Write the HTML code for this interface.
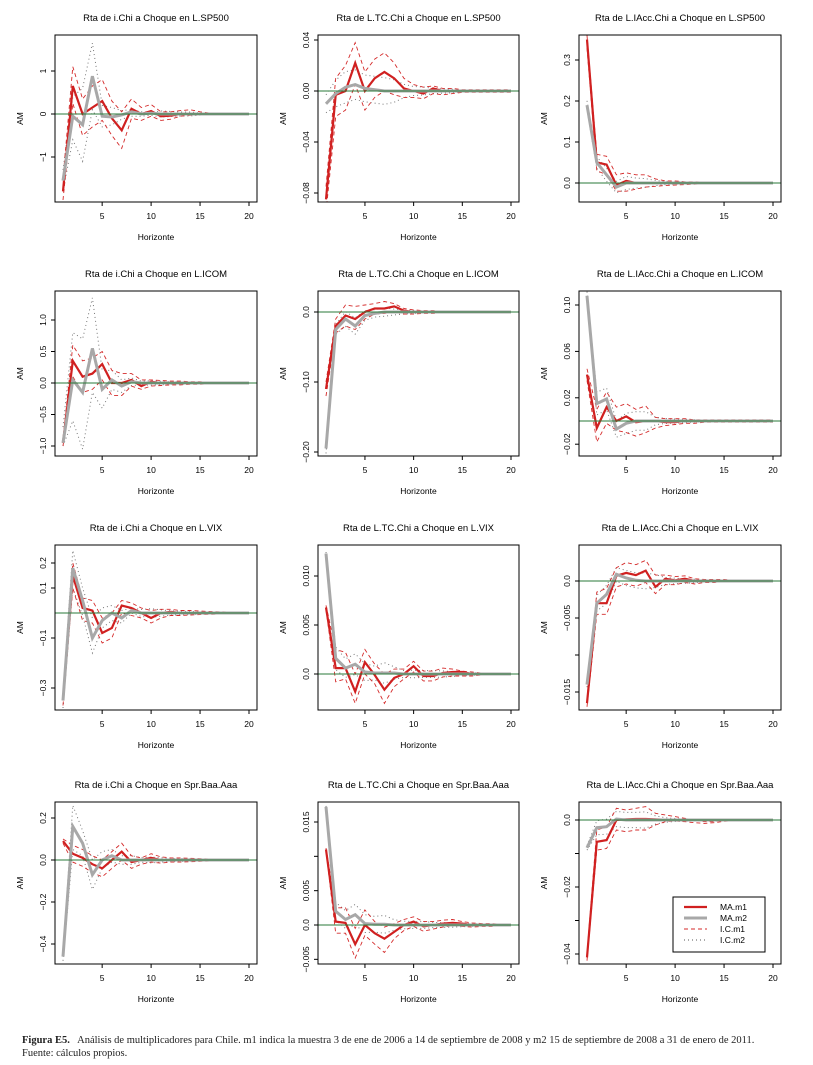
<!DOCTYPE html>
<html><head><meta charset="utf-8"><style>
body{margin:0;background:#fff;width:813px;height:1065px;overflow:hidden}
svg{position:absolute;left:0;top:0}
.cap{position:absolute;left:22px;top:1034px;font-family:"Liberation Serif",serif;font-size:10.5px;line-height:13px;color:#222}
</style></head><body>
<svg id="s" width="813" height="1065" xmlns="http://www.w3.org/2000/svg" font-family="Liberation Sans, sans-serif"></svg>
<div class="cap"><b>Figura E5.</b>&nbsp;&nbsp; Análisis de multiplicadores para Chile. m1 indica la muestra 3 de ene de 2006 a 14 de septiembre de 2008 y m2 15 de septiembre de 2008 a 31 de enero de 2011.<br>Fuente: cálculos propios.</div>
<script>
const L=[55,318,579],R=[257,519,781],T=[35,291,545,802],B=[202,456,710,964];
function pad(a){a=a.slice();while(a.length<20)a.push(0);return a}
const P=[
{r:0,c:0,t:"Rta de i.Chi a Choque en L.SP500",ref:[[1,71],[0,114]],ticks:[[1,"1"],[0,"0"],[-1,"−1"]],
m1:[-1.8,0.65,0,0.15,0.3,-0.1,-0.38,0.12,0,0.07,-0.05,-0.04,0,0.01,0],
m2:[-1.55,-0.05,-0.25,0.88,-0.05,-0.07,-0.02,0.05,0,0.02],
u1:[-1.5,1.1,0.35,0.65,0.8,0.3,0.05,0.35,0.15,0.22,0.05,0.05,0.08,0.1,0.05,0.02,0.02,0.02,0.01,0.01],
l1:[-2.0,0.25,-0.5,-0.3,-0.15,-0.5,-0.8,-0.1,-0.15,-0.05,-0.15,-0.12,-0.05,-0.03,-0.02,-0.02,-0.01,-0.01,-0.01,-0.01],
u2:[-1.3,0.4,0.6,1.65,0.2,0.15,0.08,0.1,0.05,0.04],l2:[-1.8,-0.6,-1.1,0.1,-0.3,-0.25,-0.12,-0.05,-0.05,-0.03]},
{r:0,c:1,t:"Rta de L.TC.Chi a Choque en L.SP500",ref:[[0.04,40],[0,91]],ticks:[[0.04,"0.04"],[0,"0.00"],[-0.04,"−0.04"],[-0.08,"−0.08"]],
m1:[-0.085,-0.003,0,0.022,0,0.01,0.015,0.01,0.002,0,-0.002,0.002,0],
m2:[-0.01,-0.002,0.003,0.005,0.002,0.001],
u1:[-0.075,0.01,0.02,0.038,0.015,0.025,0.03,0.022,0.01,0.005,0.003,0.004,0.002,0.002,0.001,0.001,0.001,0.001,0.001,0.001],
l1:[-0.095,-0.02,-0.015,0.005,-0.015,-0.005,0,-0.003,-0.005,-0.005,-0.006,-0.002,-0.003,-0.002,-0.001,-0.001,-0.001,-0.001,-0.001,-0.001]},
{r:0,c:2,t:"Rta de L.IAcc.Chi a Choque en L.SP500",ref:[[0.3,60],[0,183]],ticks:[[0.3,"0.3"],[0.2,"0.2"],[0.1,"0.1"],[0,"0.0"]],
m1:[0.35,0.05,0.045,-0.005,0.005,0,0,0],m2:[0.19,0.05,0.02,-0.01,0],
u1:[0.36,0.07,0.065,0.02,0.025,0.02,0.02,0.01,0.005,0.005,0.003,0.003,0.002,0.002,0.001,0.001,0.001,0.001,0.001,0.001],
l1:[0.33,0.03,0.02,-0.02,-0.02,-0.015,-0.01,-0.008,-0.006,-0.005,-0.004,-0.003,-0.002,-0.002,-0.001,-0.001,-0.001,-0.001,-0.001,-0.001]},
{r:1,c:0,t:"Rta de i.Chi a Choque en L.ICOM",ref:[[1,320],[0,383]],ticks:[[1,"1.0"],[0.5,"0.5"],[0,"0.0"],[-0.5,"−0.5"],[-1,"−1.0"]],
m1:[-0.95,0.35,0.1,0.15,0.3,0,0,0.05,-0.05,0.02],m2:[-0.95,0.05,-0.15,0.55,-0.1,0.05,-0.05,0.02],
u1:[-0.9,0.6,0.35,0.4,0.5,0.2,0.15,0.15,0.05,0.05,0.04,0.03,0.03,0.02,0.02,0.01,0.01,0.01,0.01,0.01],
l1:[-1.0,0.1,-0.15,-0.1,0.05,-0.2,-0.2,-0.05,-0.1,-0.05,-0.04,-0.03,-0.03,-0.02,-0.02,-0.01,-0.01,-0.01,-0.01,-0.01],
u2:[-0.7,0.8,0.7,1.35,0.2,0.2,0.05,0.08,0.03],l2:[-1.0,-0.6,-1.05,-0.15,-0.4,-0.1,-0.15,-0.04,-0.03]},
{r:1,c:1,t:"Rta de L.TC.Chi a Choque en L.ICOM",ref:[[0,312],[-0.1,382]],ticks:[[0,"0.0"],[-0.1,"−0.10"],[-0.2,"−0.20"]],
m1:[-0.11,-0.02,-0.005,-0.01,0,0.005,0.005,0.008,0.002],m2:[-0.195,-0.025,-0.01,-0.02,-0.005,-0.002],
u1:[-0.1,-0.01,0.01,0.008,0.01,0.012,0.015,0.012,0.005,0.003,0.002,0.002,0.001,0.001,0.001,0.001,0.001,0.001,0.001,0.001],
l1:[-0.12,-0.03,-0.02,-0.025,-0.01,-0.003,-0.002,0,-0.003,-0.003,-0.002,-0.002,-0.001,-0.001,-0.001,-0.001,-0.001,-0.001,-0.001,-0.001]},
{r:1,c:2,t:"Rta de L.IAcc.Chi a Choque en L.ICOM",ref:[[0.1,305],[0,421]],ticks:[[0.1,"0.10"],[0.06,"0.06"],[0.02,"0.02"],[-0.02,"−0.02"]],
m1:[0.04,-0.006,0.012,0,0.004,-0.001,0,0,-0.001,-0.001],m2:[0.108,0.015,0.019,-0.007,-0.002,0],
u1:[0.045,0.01,0.025,0.012,0.015,0.01,0.013,0.003,0.002,0.002,0.002,0.001,0.001,0.001,0.001,0.001,0.001,0.001,0.001,0.001],
l1:[0.035,-0.018,-0.002,-0.008,-0.01,-0.013,-0.01,-0.006,-0.004,-0.003,-0.002,-0.002,-0.001,-0.001,-0.001,-0.001,-0.001,-0.001,-0.001,-0.001]},
{r:2,c:0,t:"Rta de i.Chi a Choque en L.VIX",ref:[[0.2,563],[0,613]],ticks:[[0.2,"0.2"],[0.1,"0.1"],[-0.1,"−0.1"],[-0.3,"−0.3"]],
m1:[-0.35,0.15,0.02,0.01,-0.08,-0.06,0.03,0.02,0,-0.02,0,0.005],m2:[-0.35,0.18,0.05,-0.1,-0.03,0,-0.02,0.01],
u1:[-0.33,0.2,0.06,0.05,-0.02,0,0.05,0.04,0.02,0.01,0.015,0.015,0.01,0.01,0.008,0.006,0.005,0.004,0.004,0.004],
l1:[-0.37,0.1,-0.03,-0.04,-0.12,-0.1,0,-0.01,-0.02,-0.04,-0.02,-0.01,-0.01,-0.008,-0.006,-0.005,-0.004,-0.004,-0.004,-0.004],
u2:[-0.32,0.25,0.1,-0.02,0.02,0.03,0.01,0.02],l2:[-0.38,0.1,-0.01,-0.16,-0.06,-0.03,-0.04,0]},
{r:2,c:1,t:"Rta de L.TC.Chi a Choque en L.VIX",ref:[[0.01,576],[0,674]],ticks:[[0.01,"0.010"],[0.005,"0.005"],[0,"0.0"]],
m1:[0.0068,0.0006,0.0006,-0.0018,0.0012,-0.0001,-0.0016,-0.0004,0,0.0008,-0.0002,-0.0002,0.0001,0.0002,0.0002],
m2:[0.0123,0.0016,0.0006,0.001,0.0002,0.0001,0.0001,0.0001],
u1:[0.007,0.0025,0.0022,0,0.0025,0.001,0,0.0005,0.0005,0.0013,0.0003,0.0003,0.0006,0.0005,0.0003,0.0002,0.0001,0.0001,0.0001,0.0001],
l1:[0.0066,-0.0008,-0.0005,-0.003,0,-0.001,-0.003,-0.0013,-0.0005,0.0002,-0.0007,-0.0007,-0.0003,-0.0002,-0.0002,-0.0002,-0.0001,-0.0001,-0.0001,-0.0001]},
{r:2,c:2,t:"Rta de L.IAcc.Chi a Choque en L.VIX",ref:[[0,581],[-0.005,618]],ticks:[[0,"0.0"],[-0.005,"−0.005"],[-0.01,""],[-0.015,"−0.015"]],
m1:[-0.0165,-0.003,-0.003,0.0007,0.0011,0.0008,0.0014,-0.0008,0.0003,0.0001,0.0003],m2:[-0.014,-0.003,-0.0018,0.0009,0.0004,0.0001],
u1:[-0.016,-0.0015,-0.001,0.0018,0.0025,0.0022,0.0028,0.0008,0.0008,0.0006,0.0007,0.0003,0.0002,0.0002,0.0002,0.0001,0.0001,0.0001,0.0001,0.0001],
l1:[-0.017,-0.0045,-0.0045,-0.0008,-0.0004,-0.0007,-0.0002,-0.0017,-0.0005,-0.0005,-0.0002,-0.0004,-0.0002,-0.0002,-0.0001,-0.0001,-0.0001,-0.0001,-0.0001,-0.0001]},
{r:3,c:0,t:"Rta de i.Chi a Choque en Spr.Baa.Aaa",ref:[[0.2,818],[0,860]],ticks:[[0.2,"0.2"],[0,"0.0"],[-0.2,"−0.2"],[-0.4,"−0.4"]],
m1:[0.09,0.03,0.01,-0.02,-0.04,0,0.04,-0.01,0,0.01],m2:[-0.46,0.16,0.08,-0.07,0,0.02,0],
u1:[0.1,0.07,0.05,0.02,0,0.04,0.08,0.02,0.01,0.03,0.015,0.01,0.01,0.008,0.006,0.005,0.004,0.004,0.004,0.004],
l1:[0.08,-0.01,-0.03,-0.06,-0.08,-0.04,0,-0.04,-0.02,-0.01,-0.015,-0.01,-0.01,-0.008,-0.006,-0.005,-0.004,-0.004,-0.004,-0.004],
u2:[-0.44,0.26,0.14,0,0.04,0.05,0.02],l2:[-0.48,0.05,0.02,-0.14,-0.04,-0.01,-0.02]},
{r:3,c:1,t:"Rta de L.TC.Chi a Choque en Spr.Baa.Aaa",ref:[[0.015,822],[0,925]],ticks:[[0.015,"0.015"],[0.01,""],[0.005,"0.005"],[0,"0.0"],[-0.005,"−0.005"]],
m1:[0.011,0.0005,0.0003,-0.0028,0,-0.0012,-0.002,-0.001,0,0.0005,-0.0002,0,0.0002,0.0003,0.0002],
m2:[0.0172,0.002,0.0008,0.0015,0.0002,0.0001,0.0001],
u1:[0.0112,0.0025,0.0025,-0.0005,0.0022,0.0005,-0.0003,0.0002,0.0008,0.0012,0.0005,0.0005,0.0007,0.0008,0.0005,0.0003,0.0002,0.0002,0.0001,0.0001],
l1:[0.0108,-0.0012,-0.0012,-0.0048,-0.0015,-0.0028,-0.004,-0.002,-0.0008,-0.0002,-0.0009,-0.0006,-0.0003,-0.0001,-0.0002,-0.0003,-0.0002,-0.0002,-0.0001,-0.0001]},
{r:3,c:2,t:"Rta de L.IAcc.Chi a Choque en Spr.Baa.Aaa",ref:[[0,820],[-0.02,887]],ticks:[[0,"0.0"],[-0.01,""],[-0.02,"−0.02"],[-0.03,""],[-0.04,"−0.04"]],
m1:[-0.041,-0.0065,-0.006,0,0.0002,0.0003,0.0003,0.0002,0.0001],m2:[-0.0083,-0.0023,-0.002,0.0003,0],
u1:[-0.04,-0.003,-0.002,0.0035,0.003,0.0035,0.004,0.002,0.0015,0.001,0.0005,0,-0.0005,-0.0005,0,0,0,0,0,0],
l1:[-0.042,-0.009,-0.0085,-0.003,-0.0035,-0.003,-0.003,-0.0015,-0.0005,-0.0003,-0.0005,-0.0008,-0.001,-0.0008,-0.0004,-0.0002,-0.0001,0,0,0]}
];
let h='';
const F=0.35;
for(const p of P){
 const l=L[p.c],r=R[p.c],t=T[p.r],b=B[p.r];
 const X=i=>l+8+i*(r-l-16)/19;
 const [[v1,y1],[v2,y2]]=p.ref,k=(y2-y1)/(v2-v1),Y=v=>y1+(v-v1)*k;
 const pl=(a,st)=>'<polyline fill="none" '+st+' points="'+pad(a).map((v,i)=>X(i).toFixed(1)+','+Y(v).toFixed(1)).join(' ')+'"/>';
 const m2=pad(p.m2),u1=pad(p.u1),l1=pad(p.l1);
 const u2=p.u2?pad(p.u2).map((v,i)=>i<p.u2.length?v:m2[i]+(u1[i]-l1[i])*F):m2.map((v,i)=>v+(u1[i]-l1[i])*F);
 const l2=p.l2?pad(p.l2).map((v,i)=>i<p.l2.length?v:m2[i]-(u1[i]-l1[i])*F):m2.map((v,i)=>v-(u1[i]-l1[i])*F);
 h+=`<text x="${(l+r)/2}" y="${t-14}" font-size="9.5" text-anchor="middle">${p.t}</text>`;
 h+=`<svg x="${l}" y="${t}" width="${r-l}" height="${b-t}" overflow="hidden"><g transform="translate(${-l},${-t})">`;
 h+=pl(u2,'stroke="#777" stroke-width="1" stroke-dasharray="1,3"')+pl(l2,'stroke="#777" stroke-width="1" stroke-dasharray="1,3"');
 h+=pl(p.u1,'stroke="#d42a2a" stroke-width="0.9" stroke-dasharray="4,3"')+pl(p.l1,'stroke="#d42a2a" stroke-width="0.9" stroke-dasharray="4,3"');
 h+=pl(p.m1,'stroke="#d02020" stroke-width="2.2"')+pl(p.m2,'stroke="#a8a8a8" stroke-width="3"');
 h+=`<line x1="${l}" x2="${r}" y1="${Y(0)}" y2="${Y(0)}" stroke="#2a7a3a" stroke-width="1"/></g></svg>`;
 h+=`<rect x="${l}" y="${t}" width="${r-l}" height="${b-t}" fill="none" stroke="#000" stroke-width="1"/>`;
 for(const n of [5,10,15,20]){const x=X(n-1);h+=`<line x1="${x}" x2="${x}" y1="${b}" y2="${b+4}" stroke="#000"/><text x="${x}" y="${b+17}" font-size="8.5" text-anchor="middle">${n}</text>`;}
 for(const [v,s] of p.ticks){const y=Y(v);h+=`<line x1="${l-4}" x2="${l}" y1="${y}" y2="${y}" stroke="#000"/>`;if(s)h+=`<text transform="translate(${l-9},${y}) rotate(-90)" font-size="8.5" text-anchor="middle">${s}</text>`;}
 h+=`<text x="${(l+r)/2}" y="${b+38}" font-size="8.5" text-anchor="middle">Horizonte</text>`;
 h+=`<text transform="translate(${l-32},${(t+b)/2}) rotate(-90)" font-size="8.5" text-anchor="middle">AM</text>`;
}
h+=`<rect x="673" y="897" width="92" height="55" fill="#fff" stroke="#000"/>
<line x1="684" x2="707" y1="907" y2="907" stroke="#d02020" stroke-width="2.2"/><text x="720" y="910" font-size="8.5">MA.m1</text>
<line x1="684" x2="707" y1="918" y2="918" stroke="#a8a8a8" stroke-width="3"/><text x="720" y="921" font-size="8.5">MA.m2</text>
<line x1="684" x2="707" y1="929" y2="929" stroke="#d42a2a" stroke-dasharray="4,3"/><text x="720" y="932" font-size="8.5">I.C.m1</text>
<line x1="684" x2="707" y1="940" y2="940" stroke="#555" stroke-dasharray="1,3"/><text x="720" y="943" font-size="8.5">I.C.m2</text>`;
document.getElementById('s').innerHTML=h;
</script>
</body></html>
